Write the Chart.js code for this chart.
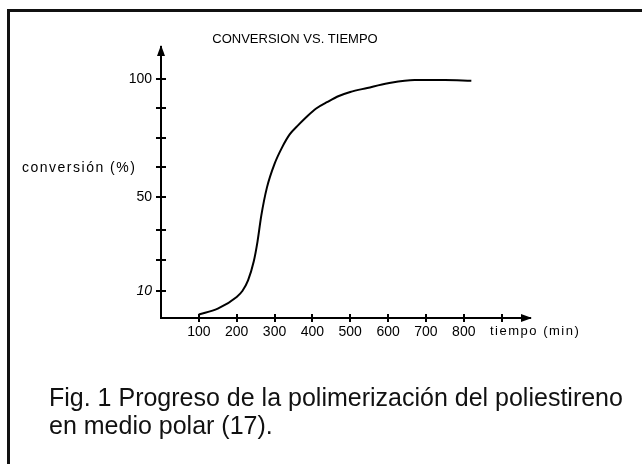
<!DOCTYPE html>
<html>
<head>
<meta charset="utf-8">
<script src="https://cdn.jsdelivr.net/npm/chart.js@4.4.0/dist/chart.umd.min.js"></script>
<style>
  html, body { margin: 0; padding: 0; background: #fff; }
  #fig { position: relative; width: 642px; height: 469px; overflow: hidden; }
  #fig canvas { position: absolute; left: 0; top: 0; }
  .frame-top { position: absolute; left: 7px; top: 9px; width: 635px; height: 3px; background: #111; }
  .frame-left { position: absolute; left: 7px; top: 9px; width: 3px; height: 455px; background: #111; }
  #caption { position: absolute; left: 49px; top: 383px; font: 25px 'Liberation Sans', Arial, sans-serif;
    line-height: 28px; color: #111; white-space: nowrap; }
</style>
</head>
<body>
<div id="fig">
  <div class="frame-top"></div>
  <div class="frame-left"></div>
  <canvas id="myChart" width="642" height="469"></canvas>
  <div id="caption">Fig. 1 Progreso de la polimerización del poliestireno<br>en medio polar (17).</div>
</div>
<script>
'use strict';

// tiempo (min) / conversion (%)
const tiempo = [100, 150, 200, 215, 230, 245, 255, 265, 280, 300, 320, 340, 360, 385, 410, 440, 470, 500, 545, 600, 670, 750, 820];
const conversion = [0, 2.5, 7.5, 10, 14.5, 22.5, 31, 42, 54, 64, 71, 76.5, 80, 84, 87.5, 90.3, 92.8, 94.5, 96.2, 98.2, 99.6, 99.6, 99.3];

const xTicks = [100, 200, 300, 400, 500, 600, 700, 800, 900];
const xLabeled = [100, 200, 300, 400, 500, 600, 700, 800];
const yTicks = [10, 23, 36, 50, 62.5, 75, 87.5, 100];
const yLabeled = [10, 50, 100];

const chartTitle = 'CONVERSION VS. TIEMPO';
const yName = 'conversión (%)';
const xName = 'tiempo (min)';

const fontFamily = "'Liberation Sans', Arial, sans-serif";

// crossing tick marks, arrow heads and the loose labels of the old figure
const axisDecor = {
  id: 'axisDecor',
  afterDraw(chart) {
    const ctx = chart.ctx;
    const a = chart.chartArea;
    const x = chart.scales.x;
    const y = chart.scales.y;
    ctx.save();
    ctx.strokeStyle = '#000';
    ctx.fillStyle = '#000';
    ctx.lineWidth = 2;

    y.ticks.forEach(t => {
      const py = Math.round(y.getPixelForValue(t.value));
      ctx.beginPath();
      ctx.moveTo(a.left - 5, py);
      ctx.lineTo(a.left + 5, py);
      ctx.stroke();
    });
    x.ticks.forEach(t => {
      const px = Math.round(x.getPixelForValue(t.value));
      ctx.beginPath();
      ctx.moveTo(px, a.bottom - 4);
      ctx.lineTo(px, a.bottom + 4);
      ctx.stroke();
    });

    // arrow heads
    ctx.beginPath();
    ctx.moveTo(a.left, a.top - 2);
    ctx.lineTo(a.left - 4, a.top + 9);
    ctx.lineTo(a.left + 4, a.top + 9);
    ctx.closePath();
    ctx.fill();
    ctx.beginPath();
    ctx.moveTo(a.right + 2, a.bottom);
    ctx.lineTo(a.right - 9, a.bottom - 4);
    ctx.lineTo(a.right - 9, a.bottom + 4);
    ctx.closePath();
    ctx.fill();

    ctx.textBaseline = 'middle';
    ctx.textAlign = 'center';
    ctx.font = '13px ' + fontFamily;
    ctx.fillText(chartTitle, 295, 39);

    ctx.textAlign = 'left';
    ctx.letterSpacing = '1.5px';
    ctx.font = '14px ' + fontFamily;
    ctx.fillText(yName, 22, 168);
    ctx.font = '13px ' + fontFamily;
    ctx.fillText(xName, 490, 331);
    ctx.restore();
  }
};

const ctx = document.getElementById('myChart').getContext('2d');
const myChart = new Chart(ctx, {
  type: 'line',
  data: {
    datasets: [{
      label: 'conversión',
      data: tiempo.map((t, i) => ({ x: t, y: conversion[i] })),
      borderColor: '#000',
      borderWidth: 2,
      pointRadius: 0,
      fill: false,
      cubicInterpolationMode: 'monotone'
    }]
  },
  options: {
    responsive: false,
    animation: false,
    layout: {
      padding: { top: 47, left: 0, right: 112, bottom: 121 }
    },
    plugins: {
      legend: { display: false },
      title: { display: false },
      tooltip: { enabled: false }
    },
    scales: {
      x: {
        type: 'linear',
        min: 0,
        max: 975,
        grid: { display: false, drawTicks: false },
        border: { display: true, color: '#000', width: 2 },
        afterBuildTicks: scale => { scale.ticks = xTicks.map(v => ({ value: v })); },
        afterFit: scale => { scale.height = 30; },
        ticks: {
          padding: 6,
          maxRotation: 0,
          autoSkip: false,
          color: '#000',
          font: { family: fontFamily, size: 14 },
          callback: v => xLabeled.includes(v) ? String(v) : ''
        }
      },
      y: {
        type: 'linear',
        min: -1.46,
        max: 113.6,
        grid: { display: false, drawTicks: false },
        border: { display: true, color: '#000', width: 2 },
        afterBuildTicks: scale => { scale.ticks = yTicks.map(v => ({ value: v })); },
        afterFit: scale => { scale.width = 161; },
        ticks: {
          padding: 9,
          autoSkip: false,
          color: '#000',
          font: c => ({ family: fontFamily, size: 14, style: c.tick && c.tick.value === 10 ? 'italic' : 'normal' }),
          callback: v => yLabeled.includes(v) ? String(v) : ''
        }
      }
    }
  },
  plugins: [axisDecor]
});
</script>
</body>
</html>
